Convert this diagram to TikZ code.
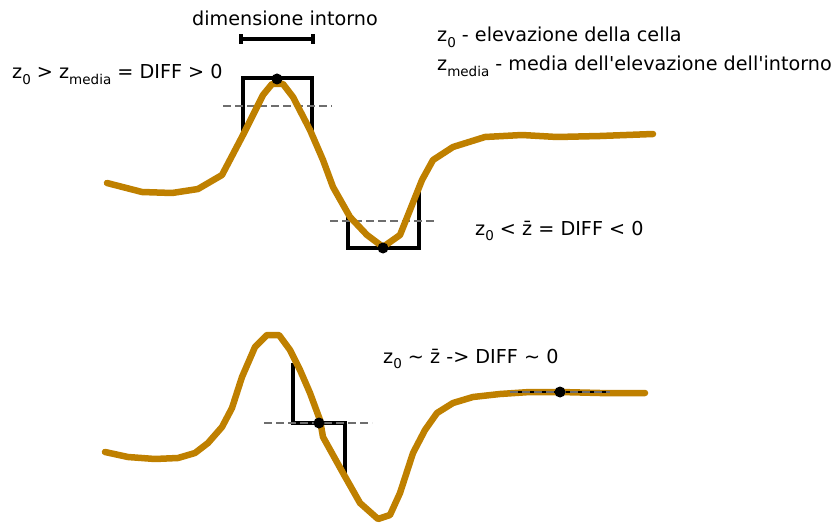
\documentclass[tikz,border=0pt]{standalone}
\usepackage{fontspec}
\setmainfont{DejaVu Sans}
\newcommand\zsub[1]{\raisebox{-0.3em}{\fontsize{13.5}{13.5}\selectfont #1}}
\definecolor{terrain}{RGB}{191,128,0}
\definecolor{dgray}{RGB}{110,110,110}
\tikzset{
  terr/.style={draw=terrain,line width=6.5pt,line join=round,line cap=round},
  boxline/.style={draw=black,line width=3.2pt,line join=miter},
  meanline/.style={draw=dgray,line width=2.2pt,dash pattern=on 8pt off 4pt},
  celldot/.style={circle,fill=black,inner sep=0pt,minimum size=11pt},
  lbl/.style={font=\fontsize{19.2}{23}\selectfont,inner sep=0pt,anchor=base west}
}
\begin{document}
\begin{tikzpicture}[x=1pt,y=-1pt]
\useasboundingbox (0,0) rectangle (833,524);
% texts
\node[lbl,anchor=base] (dimlbl) at (285,26) {dimensione intorno};
\node[lbl] (cond1) at (12,79) {z\zsub{0} > z\zsub{media} = DIFF > 0};
\node[lbl] (leg1) at (437,42) {z\zsub{0} - elevazione della cella};
\node[lbl] (leg2) at (437,71) {z\zsub{media} - media dell\textquotesingle elevazione dell\textquotesingle intorno};
\node[lbl] (cond2) at (475,235) {z\zsub{0} < z̄ = DIFF < 0};
\node[lbl] (cond3) at (383,363) {z\zsub{0} \textasciitilde{} z̄ -> DIFF \textasciitilde{} 0};
% dimension bar
\coordinate (d1) at (241,39);
\coordinate (d2) at (313,39);
\draw[line width=3.2pt] (d1) -- (d2);
\draw[line width=3.2pt] ([yshift=-5pt]d1) -- ([yshift=5pt]d1);
\draw[line width=3.2pt] ([yshift=-5pt]d2) -- ([yshift=5pt]d2);
% boxes
\draw[boxline] (243,133) -- (243,78) -- (312,78) -- (312,133);
\draw[boxline] (348,216) -- (348,248) -- (419,248) -- (419,186);
\draw[boxline] (293,363) -- (293,423) -- (345,423) -- (345,477);
% mean lines
\draw[meanline] (223,106) -- (332,106);
\draw[meanline] (330,221) -- (437,221);
\draw[meanline] (264,423) -- (372,423);
% terrain profiles
\draw[terr] (107,183) -- (142,192) -- (172,193) -- (198,189) -- (222,175) -- (243,135) -- (263,95) -- (272,84) -- (283,84) -- (293,97) -- (310,130) -- (323,160) -- (333,187) -- (350,217) -- (367,235) -- (383,247) -- (400,235) -- (410,210) -- (422,180) -- (433,160) -- (453,147) -- (485,137) -- (522,135) -- (557,137) -- (600,136) -- (653,134);
\draw[terr] (105,452) -- (128,457) -- (155,459) -- (178,458) -- (195,453) -- (208,443) -- (222,427) -- (232,408) -- (242,377) -- (255,347) -- (267,335) -- (279,335) -- (290,350) -- (300,370) -- (310,393) -- (320,420) -- (323,437) -- (343,473) -- (360,503) -- (378,519) -- (390,515) -- (400,493) -- (413,453) -- (425,430) -- (437,413) -- (453,403) -- (473,397) -- (500,394) -- (530,392) -- (560,392) -- (600,393) -- (645,393);
% flat neighbourhood
\draw[line width=2.2pt] (510,392) -- (610,392);
\draw[meanline] (510,392) -- (610,392);
% cell dots
\node[celldot] (p1) at (277,79) {};
\node[celldot] (p2) at (383,248) {};
\node[celldot] (p3) at (319,423) {};
\node[celldot] (p4) at (560,392) {};
\end{tikzpicture}
\end{document}
